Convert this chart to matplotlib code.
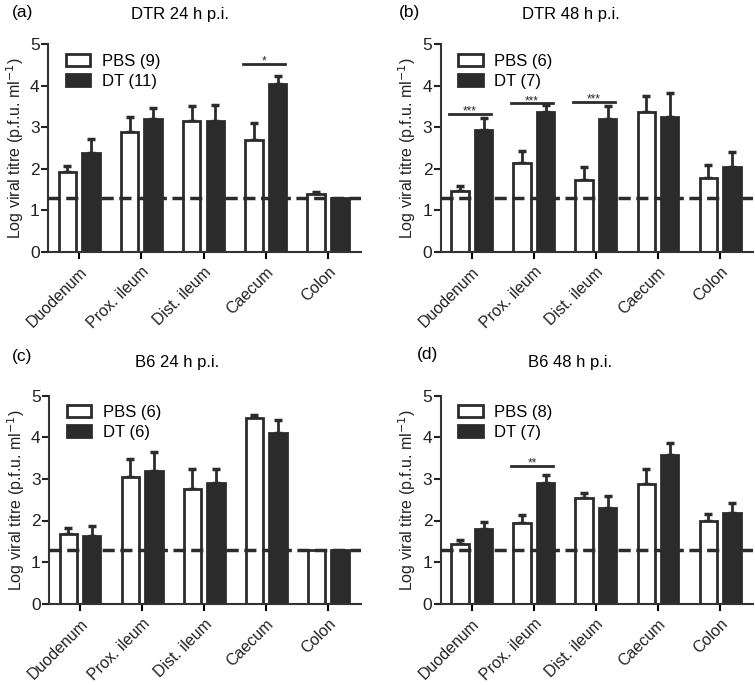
import numpy as np
import matplotlib
matplotlib.use('Agg')
import matplotlib.pyplot as plt
from matplotlib.patches import Patch

plt.rcParams['font.family'] = ['Liberation Sans', 'DejaVu Sans']

DARK = '#2b2b2b'
LIMIT = 1.3  # detection limit (dashed line)

categories = ['Duodenum', 'Prox. ileum', 'Dist. ileum', 'Caecum', 'Colon']

# (a) DTR 24 h p.i.
dtr24_pbs = [1.91, 2.88, 3.16, 2.70, 1.38]
dtr24_pbs_err = [0.16, 0.36, 0.35, 0.40, 0.07]
dtr24_dt = [2.38, 3.21, 3.14, 4.04, 1.30]
dtr24_dt_err = [0.34, 0.26, 0.40, 0.20, 0.0]

# (b) DTR 48 h p.i.
dtr48_pbs = [1.47, 2.15, 1.74, 3.36, 1.77]
dtr48_pbs_err = [0.12, 0.28, 0.31, 0.40, 0.32]
dtr48_dt = [2.93, 3.36, 3.19, 3.25, 2.05]
dtr48_dt_err = [0.29, 0.18, 0.32, 0.58, 0.35]

# (c) B6 24 h p.i.
b624_pbs = [1.67, 3.04, 2.75, 4.46, 1.28]
b624_pbs_err = [0.16, 0.45, 0.50, 0.08, 0.0]
b624_dt = [1.63, 3.20, 2.89, 4.11, 1.28]
b624_dt_err = [0.23, 0.44, 0.35, 0.30, 0.0]

# (d) B6 48 h p.i.
b648_pbs = [1.43, 1.93, 2.53, 2.88, 1.99]
b648_pbs_err = [0.10, 0.20, 0.12, 0.37, 0.17]
b648_dt = [1.79, 2.91, 2.31, 3.58, 2.17]
b648_dt_err = [0.17, 0.19, 0.29, 0.29, 0.24]

# significance: (category index, bar height, stars)
dtr24_sig = [(3, 4.53, '*')]
dtr48_sig = [(0, 3.32, '***'), (1, 3.58, '***'), (2, 3.62, '***')]
b624_sig = []
b648_sig = [(1, 3.31, '**')]

panels = [
    ('(a)', 'DTR 24 h p.i.', dtr24_pbs, dtr24_pbs_err, dtr24_dt, dtr24_dt_err, 9, 11, dtr24_sig),
    ('(b)', 'DTR 48 h p.i.', dtr48_pbs, dtr48_pbs_err, dtr48_dt, dtr48_dt_err, 6, 7, dtr48_sig),
    ('(c)', 'B6 24 h p.i.', b624_pbs, b624_pbs_err, b624_dt, b624_dt_err, 6, 6, b624_sig),
    ('(d)', 'B6 48 h p.i.', b648_pbs, b648_pbs_err, b648_dt, b648_dt_err, 8, 7, b648_sig),
]

W, H = 755, 685
# axes boxes in pixels: left, right, top, bottom
boxes = [(48, 361, 44.3, 251.7), (440.7, 753, 44.3, 251.7),
         (49, 361, 395.7, 603.7), (440.7, 753, 395.7, 603.7)]
# panel letter and title positions in pixels
letter_pos = [(12, 12), (399, 12), (12, 357), (417, 355)]
title_pos = [(180, 15), (571, 15), (177, 362), (570, 363)]

fig = plt.figure(figsize=(W / 100, H / 100), dpi=100)

width = 0.28
off = 0.19

def draw_errors(ax, x, y, err):
    x = np.asarray(x); y = np.asarray(y); err = np.asarray(err)
    m = err > 0
    ax.errorbar(x[m], y[m], yerr=[np.zeros(m.sum()), err[m]], fmt='none',
                ecolor=DARK, elinewidth=2, capsize=3.2, capthick=2.5, zorder=1)

for i, (letter, title, pbs, pbs_err, dt, dt_err, n_pbs, n_dt, sig) in enumerate(panels):
    l, r, t, b = boxes[i]
    ax = fig.add_axes([l / W, 1 - b / H, (r - l) / W, (b - t) / H])
    x = np.arange(len(categories))

    draw_errors(ax, x - off, pbs, pbs_err)
    draw_errors(ax, x + off, dt, dt_err)
    ax.bar(x - off, pbs, width, color='white', edgecolor=DARK, linewidth=2,
           label=f'PBS ({n_pbs})', zorder=2)
    ax.bar(x + off, dt, width, color=DARK, edgecolor=DARK, linewidth=2,
           label=f'DT ({n_dt})', zorder=2)
    ax.axhline(LIMIT, ls=(0, (3.5, 1.6)), color=DARK, lw=2.5, zorder=3)

    for k, yy, stars in sig:
        ax.plot([k - 0.37, k + 0.31], [yy, yy], color=DARK, lw=2, zorder=3)
        ax.text(k - 0.03, yy - 0.02, stars, ha='center', va='baseline',
                fontsize=8.5, color=DARK)

    ax.set_xlim(-0.5, 4.53)
    ax.set_ylim(0, 5)
    ax.set_yticks(range(6))
    ax.set_xticks(x)
    ax.set_xticklabels(categories, rotation=45, ha='right', rotation_mode='anchor',
                       fontsize=11.5, color='#222222')
    ax.tick_params(axis='y', labelsize=12.5, colors='#222222', length=5,
                   width=1.5, pad=1)
    ax.tick_params(axis='x', length=5, width=1.5, pad=4)
    for s in ['top', 'right']:
        ax.spines[s].set_visible(False)
    for s in ['left', 'bottom']:
        ax.spines[s].set_linewidth(1.5)
        ax.spines[s].set_color('#333333')
    ax.set_ylabel('Log viral titre (p.f.u. ml$^{-1}$)', fontsize=11.5,
                  color='#222222', labelpad=3)

    handles = [Patch(facecolor='white', edgecolor=DARK, linewidth=2),
               Patch(facecolor=DARK, edgecolor=DARK, linewidth=2)]
    ax.legend(handles, [f'PBS ({n_pbs})', f'DT ({n_dt})'], loc='upper left',
              bbox_to_anchor=(0.03, 0.995), frameon=False, fontsize=12,
              handlelength=1.45, handleheight=0.75, labelspacing=0.3,
              handletextpad=0.7, borderpad=0)

    fig.text(letter_pos[i][0] / W, 1 - letter_pos[i][1] / H, letter,
             ha='left', va='center', fontsize=12.5)
    fig.text(title_pos[i][0] / W, 1 - title_pos[i][1] / H, title,
             ha='center', va='center', fontsize=12)

fig.savefig('out.png', dpi=100)
